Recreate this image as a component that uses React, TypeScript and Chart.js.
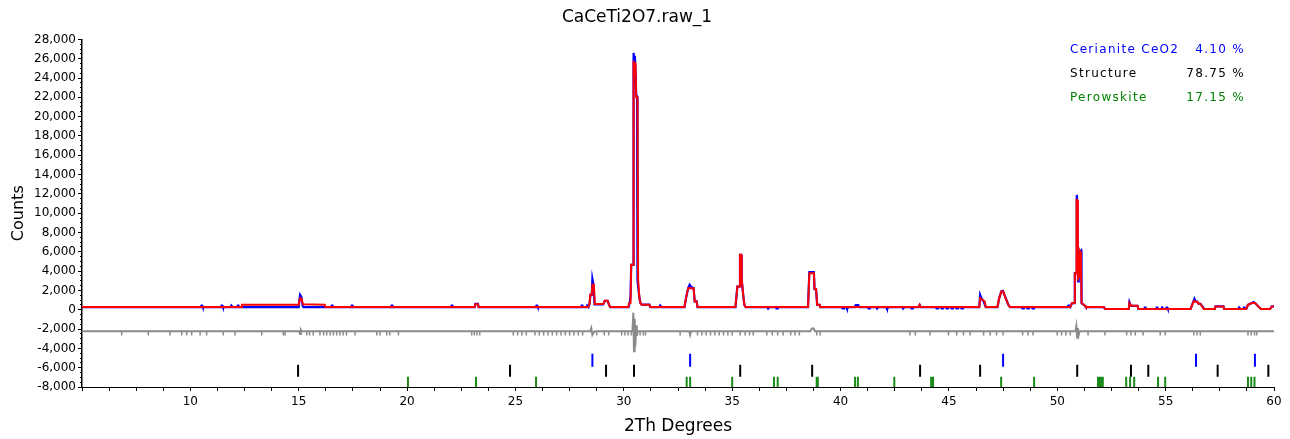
import React, { useEffect, useRef } from "react";
import { Chart, registerables } from "chart.js";

Chart.register(...registerables);

// ---- data ----
const chartTitle = "CaCeTi2O7.raw_1";
const xAxisTitle = "2Th Degrees";
const yAxisTitle = "Counts";

const phaseNames = ["Cerianite CeO2", "Structure", "Perowskite"];
const phasePercents = [4.1, 78.75, 17.15];
const phaseColors = ["#0000ff", "#000000", "#008000"];

// calculated profile [2θ, counts]
const calcProfile: [number, number][] = [
  [5.0, 280], [12.35, 280], [12.38, 530], [15.0, 530], [15.03, 900], [15.07, 1210], [15.14, 1100], [15.19, 560], [16.2, 530], [16.23, 280],
  [23.12, 280], [23.15, 560], [23.27, 560], [23.3, 280],
  [28.36, 280], [28.42, 620], [28.45, 1550], [28.52, 1550], [28.55, 2600], [28.62, 2600], [28.66, 590], [29.05, 590], [29.12, 930], [29.25, 930], [29.32, 500], [29.37, 280],
  [30.2, 280], [30.25, 690], [30.31, 690], [30.34, 4650], [30.43, 4650], [30.45, 25800], [30.48, 25200], [30.51, 24200], [30.54, 25600], [30.57, 22000], [30.63, 22000], [30.66, 3100], [30.72, 1210], [30.77, 690], [30.82, 530], [31.18, 530], [31.22, 280],
  [32.8, 280], [32.87, 1210], [32.97, 2240], [33.22, 2240], [33.27, 860], [33.36, 860], [33.4, 280],
  [35.15, 280], [35.24, 2410], [35.33, 2410], [35.36, 5690], [35.41, 5690], [35.44, 3100], [35.5, 1720], [35.56, 520], [35.62, 280],
  [38.5, 280], [38.56, 3790], [38.77, 3790], [38.8, 2140], [38.87, 2140], [38.92, 520], [39.03, 520], [39.06, 280],
  [43.6, 280], [43.65, 500], [43.7, 280],
  [46.4, 280], [46.44, 1200], [46.55, 1030], [46.65, 860], [46.7, 280],
  [47.24, 280], [47.32, 1210], [47.42, 1900], [47.5, 1900], [47.56, 1550], [47.67, 900], [47.74, 520], [47.82, 280],
  [50.6, 280], [50.68, 690], [50.79, 690], [50.81, 3790], [50.87, 3790], [50.89, 11370], [50.92, 11370], [50.95, 3000], [50.98, 5800], [51.01, 3300], [51.05, 6030], [51.09, 5800], [51.12, 690], [51.28, 410], [51.32, 280],
  [52.15, 280], [52.2, 80], [53.3, 80], [53.33, 690], [53.4, 410], [53.7, 410], [53.74, 80],
  [56.15, 80], [56.3, 900], [56.36, 860], [56.44, 860], [56.52, 620], [56.6, 620], [56.75, 80],
  [57.27, 80], [57.3, 340], [57.67, 340], [57.7, 80],
  [58.72, 80], [58.8, 520], [58.98, 690], [59.13, 690], [59.28, 340], [59.4, 80], [59.82, 80], [59.9, 340], [60.0, 340],
];

// observed profile [2θ, counts]
const observedProfile: [number, number][] = [
  [5.0, 280], [10.48, 280], [10.51, 440], [10.54, 440], [10.57, 280], [11.41, 280], [11.44, 440], [11.47, 440], [11.5, 280],
  [11.86, 280], [11.89, 440], [11.92, 440], [11.95, 280], [12.16, 280], [12.19, 440], [12.22, 440], [12.25, 280],
  [15.0, 280], [15.03, 1000], [15.06, 1550], [15.12, 1350], [15.18, 400], [15.22, 280],
  [16.5, 280], [16.53, 440], [16.56, 440], [16.59, 280], [17.42, 280], [17.45, 440], [17.48, 440], [17.51, 280],
  [19.26, 280], [19.29, 440], [19.32, 440], [19.35, 280], [22.03, 280], [22.06, 440], [22.09, 440], [22.12, 280],
  [23.12, 280], [23.15, 600], [23.27, 600], [23.3, 280],
  [25.94, 280], [25.97, 420], [26.0, 420], [26.03, 280],
  [28.03, 280], [28.06, 440], [28.09, 440], [28.12, 280], [28.28, 280], [28.31, 440], [28.34, 440], [28.37, 280],
  [28.42, 620], [28.46, 1550], [28.52, 1550], [28.55, 3200], [28.6, 2600], [28.65, 560], [29.05, 560], [29.12, 930], [29.25, 930], [29.32, 500], [29.37, 280],
  [30.22, 280], [30.27, 690], [30.31, 1380], [30.34, 4650], [30.43, 4650], [30.45, 26600], [30.48, 25800], [30.51, 26300], [30.54, 24800], [30.57, 22300], [30.61, 22100], [30.63, 3030], [30.72, 1210], [30.77, 690], [30.82, 530], [31.18, 530], [31.22, 280],
  [31.65, 280], [31.68, 440], [31.71, 440], [31.74, 280],
  [32.8, 280], [32.87, 1210], [32.97, 2240], [33.04, 2590], [33.1, 2400], [33.22, 2240], [33.27, 860], [33.36, 860], [33.4, 280],
  [35.15, 280], [35.24, 2410], [35.33, 2410], [35.36, 5690], [35.41, 5690], [35.44, 3100], [35.5, 1720], [35.56, 520], [35.62, 280],
  [36.63, 280], [36.66, 130], [36.69, 130], [36.72, 280], [37.01, 280], [37.04, 130], [37.07, 130], [37.1, 280],
  [38.5, 280], [38.56, 3900], [38.77, 3900], [38.8, 2140], [38.87, 2140], [38.92, 520], [39.03, 520], [39.06, 280],
  [40.06, 280], [40.09, 130], [40.12, 130], [40.15, 280], [40.26, 280], [40.29, 130], [40.32, 130], [40.35, 280],
  [40.66, 280], [40.7, 480], [40.82, 480], [40.86, 280],
  [41.26, 280], [41.29, 130], [41.32, 130], [41.35, 280], [41.66, 280], [41.69, 130], [41.72, 130], [41.75, 280],
  [42.11, 280], [42.14, 130], [42.17, 130], [42.2, 280], [42.86, 280], [42.89, 130], [42.92, 130], [42.95, 280],
  [43.24, 280], [43.27, 130], [43.3, 130], [43.33, 280],
  [43.6, 280], [43.65, 500], [43.7, 280],
  [44.4, 280], [44.43, 130], [44.46, 130], [44.49, 280], [44.63, 280], [44.66, 130], [44.69, 130], [44.72, 280],
  [44.86, 280], [44.89, 130], [44.92, 130], [44.95, 280], [45.09, 280], [45.12, 130], [45.15, 130], [45.18, 280],
  [45.32, 280], [45.35, 130], [45.38, 130], [45.41, 280], [45.55, 280], [45.58, 130], [45.61, 130], [45.64, 280],
  [46.4, 280], [46.44, 1550], [46.5, 1200], [46.6, 860], [46.7, 280],
  [47.24, 280], [47.32, 1210], [47.42, 1900], [47.49, 1960], [47.56, 1550], [47.64, 1100], [47.74, 520], [47.82, 280],
  [48.36, 280], [48.39, 130], [48.42, 130], [48.45, 280], [48.59, 280], [48.62, 130], [48.65, 130], [48.68, 280],
  [48.83, 280], [48.86, 130], [48.89, 130], [48.92, 280],
  [50.48, 280], [50.51, 430], [50.55, 430], [50.6, 280], [50.68, 690], [50.79, 690], [50.81, 3790], [50.87, 3790], [50.9, 11890], [50.93, 11000], [50.96, 2930], [50.99, 5800], [51.02, 3300], [51.06, 6030], [51.1, 6130], [51.12, 690], [51.28, 410], [51.32, 280],
  [52.15, 280], [52.2, 80], [53.3, 80], [53.33, 800], [53.4, 410], [53.7, 410], [53.74, 80],
  [54.01, 80], [54.04, 230], [54.07, 230], [54.1, 80], [54.56, 80], [54.59, 230], [54.62, 230], [54.65, 80],
  [54.81, 80], [54.84, 230], [54.87, 230], [54.9, 80], [55.01, 80], [55.04, 230], [55.07, 230], [55.1, 80],
  [56.15, 80], [56.33, 1140], [56.38, 860], [56.44, 860], [56.52, 620], [56.6, 620], [56.72, 300], [56.78, 80],
  [57.27, 80], [57.3, 340], [57.67, 340], [57.7, 80],
  [58.36, 80], [58.39, 230], [58.42, 230], [58.45, 80], [58.58, 80], [58.61, 230], [58.64, 230], [58.67, 80],
  [58.72, 80], [58.8, 520], [58.98, 690], [59.05, 800], [59.13, 690], [59.28, 340], [59.4, 80], [59.82, 80], [59.9, 340], [60.0, 340],
];

// difference curve (offset) [2θ, counts]
const differenceProfile: [number, number][] = [
  [5, -2230], [15.03, -2230], [15.06, -2500], [15.1, -2100], [15.13, -2230],
  [28.45, -2230], [28.5, -1900], [28.55, -2600], [28.6, -2400], [28.65, -2230],
  [30.4, -2230], [30.44, -300], [30.47, -4300], [30.5, -900], [30.53, -3800], [30.57, -1600], [30.6, -2700], [30.64, -2230],
  [33.02, -2230], [33.06, -2600], [33.1, -2230],
  [38.6, -2230], [38.68, -1950], [38.76, -1950], [38.82, -2230],
  [50.84, -2230], [50.88, -1700], [50.92, -2900], [50.95, -1900], [50.99, -2600], [51.03, -2230],
  [60, -2230],
];

// small dips of the difference curve (2θ)
const differenceDips: number[] = [
  6.83, 8.06, 9.06, 9.6, 9.83, 10.06, 10.45, 10.75, 11.52, 12.06, 13.29, 14.29, 14.37, 15.37, 15.5, 15.67, 15.98, 16.15, 16.29, 16.45, 16.6,
  16.75, 16.9, 17.05, 17.2, 17.6, 18.6, 18.75, 19.06, 19.2, 19.6, 22.98, 23.1, 23.22, 23.35, 24.9, 25.1, 25.3, 25.5, 25.9, 26.1, 26.3,
  26.5, 26.7, 26.9, 27.1, 27.3, 27.5, 27.7, 27.9, 28.1, 28.75, 29.1, 29.3, 29.9, 30.05, 30.2, 30.35, 30.75, 30.9, 31.0, 32.6, 33.4, 33.6,
  33.8, 34.0, 34.2, 34.4, 34.6, 34.8, 35.0, 35.37, 35.6, 35.8, 35.97, 36.6, 36.85, 37.1, 37.35, 37.7, 37.9, 38.1, 38.9, 39.06, 43.2,
  43.45, 44.13, 44.98, 45.36, 45.67, 45.98, 46.6, 46.9, 47.2, 47.5, 48.4, 48.65, 48.88, 50.0, 50.2, 50.4, 50.6, 51.42, 52.2, 53.2, 53.4,
  53.6, 53.96, 54.75, 54.98, 56.3, 56.45, 56.6, 58.8, 58.95, 59.1, 59.2,
];
const differenceDipLevel = -2450;

// reflection positions (2θ) per phase
const cerianiteTicks = [28.55, 33.06, 47.5, 56.4, 59.12];
const structureTicks = [14.97, 24.75, 29.18, 30.47, 35.37, 38.69, 43.67, 46.44, 50.92, 53.4, 54.2, 57.4, 59.74];
const perowskiteTicks = [
  20.04, 23.18, 25.95, 32.9, 33.06, 35.0, 36.93, 37.1, 38.9, 38.95, 40.67, 40.8, 42.48, 44.18, 44.27, 47.41, 48.93,
  51.88, 51.95, 52.02, 52.1, 53.18, 53.36, 53.55, 54.65, 54.98, 58.8, 58.95, 59.1,
];
// vertical extent (counts) of each phase's tick row
const cerianiteRange: [number, number] = [-4550, -5900];
const structureRange: [number, number] = [-5690, -6930];
const perowskiteRange: [number, number] = [-6930, -8000];

const xMin = 5, xMax = 60, xStep = 1.25, xLabelStep = 5;
const yMin = -8000, yMax = 28000, yStep = 2000, yMinorStep = 500;

const FONT = '"DejaVu Sans", "Liberation Sans", Arial, sans-serif';

const toXY = (arr: [number, number][]) => arr.map(([x, y]) => ({ x, y }));
const tickSegments = (pos: number[], range: [number, number]) =>
  pos.flatMap((x) => [{ x, y: range[0] }, { x, y: range[1] }, { x, y: null as any }]);

const phaseLegendPlugin = {
  id: "phaseLegend",
  afterDraw(chart: any) {
    const ctx = chart.ctx as CanvasRenderingContext2D;
    ctx.save();
    ctx.font = `12px ${FONT}`;
    ctx.textBaseline = "middle";
    try { (ctx as any).letterSpacing = "1.3px"; } catch (e) {}
    phaseNames.forEach((name, i) => {
      const y = 50 + i * 23.8;
      ctx.fillStyle = phaseColors[i];
      ctx.textAlign = "left";
      ctx.fillText(name, 1070, y);
      ctx.textAlign = "right";
      ctx.fillText(phasePercents[i].toFixed(2) + " %", 1245, y);
    });
    ctx.restore();
  },
};

export default function App() {
  const ref = useRef<HTMLCanvasElement | null>(null);
  useEffect(() => {
    if (!ref.current) return;
    const chart = new Chart(ref.current, {
      type: "line",
      data: {
        datasets: [
          {
            label: "Calculated",
            data: toXY(calcProfile),
            borderColor: "#ff0000",
            borderWidth: 2,
            pointRadius: 0,
            tension: 0,
            order: 1,
          },
          {
            label: "Observed",
            data: toXY(observedProfile),
            borderColor: "#0000ff",
            borderWidth: 2.2,
            pointRadius: 0,
            tension: 0,
            order: 2,
          },
          {
            label: "Difference",
            data: toXY(differenceProfile),
            borderColor: "#8a8a8a",
            borderWidth: 2,
            pointRadius: 0,
            tension: 0,
            order: 3,
          },
          {
            label: "Difference dips",
            data: differenceDips.map((x) => ({ x, y: differenceDipLevel })),
            showLine: false,
            pointStyle: "line",
            rotation: 90,
            pointRadius: 2,
            pointBorderWidth: 1.5,
            pointBorderColor: "#8a8a8a",
            borderColor: "#8a8a8a",
            order: 4,
          },
          {
            label: "Cerianite CeO2",
            data: tickSegments(cerianiteTicks, cerianiteRange),
            borderColor: "#0000ff",
            borderWidth: 2,
            pointRadius: 0,
            spanGaps: false,
            order: 5,
          },
          {
            label: "Structure",
            data: tickSegments(structureTicks, structureRange),
            borderColor: "#000000",
            borderWidth: 2,
            pointRadius: 0,
            spanGaps: false,
            order: 5,
          },
          {
            label: "Perowskite",
            data: tickSegments(perowskiteTicks, perowskiteRange),
            borderColor: "#1a8a1a",
            borderWidth: 2,
            pointRadius: 0,
            spanGaps: false,
            order: 5,
          },
        ],
      },
      options: {
        animation: false,
        responsive: false,
        maintainAspectRatio: false,
        parsing: true,
        layout: { padding: { left: 0, right: 16, top: 0, bottom: 0 } },
        plugins: {
          legend: { display: false },
          tooltip: { enabled: false },
          title: {
            display: true,
            text: chartTitle,
            color: "#000",
            font: { family: FONT, size: 17, weight: "normal" },
            padding: { top: 7, bottom: 12 },
          },
        },
        scales: {
          x: {
            type: "linear",
            min: xMin,
            max: xMax,
            position: "bottom",
            ticks: {
              stepSize: xStep,
              autoSkip: false,
              maxRotation: 0,
              color: "#000",
              padding: 4,
              font: { family: FONT, size: 12 },
              callback: (v: any) => (Number(v) >= 10 && Number(v) % xLabelStep === 0 ? String(v) : ""),
            },
            grid: { drawOnChartArea: false, drawTicks: true, tickLength: 4, color: "#000", tickColor: "#000" },
            border: { display: true, color: "#000", width: 1 },
            title: {
              display: true,
              text: xAxisTitle,
              color: "#000",
              font: { family: FONT, size: 17 },
              padding: { top: 0, bottom: 2 },
            },
            afterFit: (s: any) => { s.height = 52; },
          },
          y: {
            type: "linear",
            min: yMin,
            max: yMax,
            position: "left",
            weight: 1,
            ticks: {
              stepSize: yStep,
              color: "#000",
              padding: 2,
              font: { family: FONT, size: 12 },
              callback: (v: any) => Number(v).toLocaleString("en-US"),
            },
            grid: { drawOnChartArea: false, drawTicks: true, tickLength: 4, color: "#000", tickColor: "#000" },
            border: { display: true, color: "#000", width: 1.5 },
            title: {
              display: true,
              text: yAxisTitle,
              color: "#000",
              font: { family: FONT, size: 16 },
              padding: { top: 9, bottom: 0 },
            },
            afterFit: (s: any) => { s.width = 82; },
          },
          yMinor: {
            type: "linear",
            min: yMin,
            max: yMax,
            position: "left",
            weight: 0,
            ticks: { stepSize: yMinorStep, display: false },
            grid: { drawOnChartArea: false, drawTicks: true, tickLength: 2, color: "#000", tickColor: "#000" },
            border: { display: false },
            afterFit: (s: any) => { s.width = 0; },
          },
        },
      } as any,
      plugins: [phaseLegendPlugin],
    });
    return () => chart.destroy();
  }, []);

  return (
    <div style={{ position: "absolute", left: 0, top: 0, width: 1290, height: 439, background: "#fff" }}>
      <canvas ref={ref} width={1290} height={439} style={{ display: "block" }} />
    </div>
  );
}
